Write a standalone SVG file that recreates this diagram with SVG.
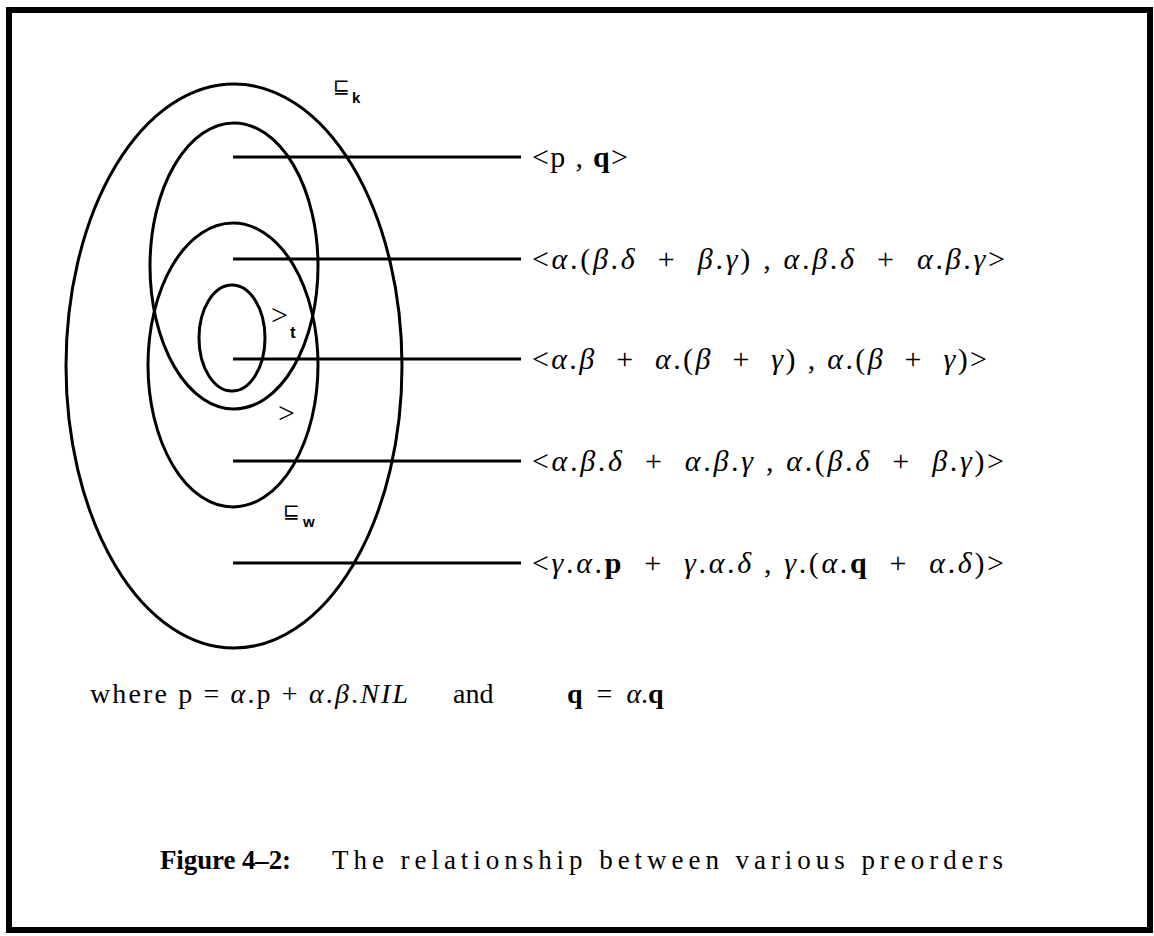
<svg xmlns="http://www.w3.org/2000/svg" width="1154" height="936" viewBox="0 0 1154 936">
<style>
.ell{fill:none;stroke:#000;stroke-width:3}
.ln{stroke:#000;stroke-width:3}
.t{font-family:"Liberation Serif","DejaVu Serif",serif;font-size:30px;fill:#000;white-space:pre}
.w{font-family:"Liberation Serif","DejaVu Serif",serif;font-size:28px;fill:#000;white-space:pre}
.i{font-style:italic}
.b{font-weight:bold}
.sym{font-family:"DejaVu Sans","Liberation Sans",sans-serif;font-size:20px;fill:#000}
.sub{font-family:"Liberation Sans",sans-serif;font-size:15px;font-weight:bold;fill:#000}
.cap{font-family:"Liberation Serif","DejaVu Serif",serif;font-size:27px;fill:#000;white-space:pre}
</style>
<rect x="9" y="10" width="1141" height="920" fill="#fff" stroke="#000" stroke-width="6"/>
<g id="ellipses">
<ellipse id="outer" class="ell" cx="234" cy="366" rx="168" ry="282"/>
<ellipse id="upper" class="ell" cx="234" cy="266" rx="84" ry="143"/>
<ellipse id="lower" class="ell" cx="233" cy="365" rx="85" ry="142"/>
<ellipse id="inner" class="ell" cx="232" cy="338" rx="33" ry="53"/>
</g>
<g id="labels">
<text class="sym" x="333" y="93">⊑</text><text class="sub" x="352" y="103">k</text>
<text class="sym" x="283" y="518">⊑</text><text class="sub" x="303" y="527">w</text>
<text class="t" x="271" y="325">&gt;</text><text class="sub" x="290" y="338" style="font-size:17px">t</text>
<text class="t" x="278" y="423">&gt;</text>
</g>
<g id="connectors">
<line class="ln" x1="233" y1="157" x2="521" y2="157"/>
<line class="ln" x1="233" y1="259" x2="521" y2="259"/>
<line class="ln" x1="233" y1="359" x2="521" y2="359"/>
<line class="ln" x1="233" y1="461" x2="521" y2="461"/>
<line class="ln" x1="233" y1="563" x2="521" y2="563"/>
</g>
<g id="row1"><text class="t" x="532" y="167" textLength="96" lengthAdjust="spacing">&lt;p , <tspan class="b">q</tspan>&gt;</text></g>
<g id="row2"><text class="t" x="532" y="269" textLength="473" lengthAdjust="spacing">&lt;<tspan class="i">α</tspan>.(<tspan class="i">β</tspan>.<tspan class="i">δ</tspan>  +  <tspan class="i">β</tspan>.<tspan class="i">γ</tspan>) , <tspan class="i">α</tspan>.<tspan class="i">β</tspan>.<tspan class="i">δ</tspan>  +  <tspan class="i">α</tspan>.<tspan class="i">β</tspan>.<tspan class="i">γ</tspan>&gt;</text></g>
<g id="row3"><text class="t" x="532" y="369" textLength="455" lengthAdjust="spacing">&lt;<tspan class="i">α</tspan>.<tspan class="i">β</tspan>  +  <tspan class="i">α</tspan>.(<tspan class="i">β</tspan>  +  <tspan class="i">γ</tspan>) , <tspan class="i">α</tspan>.(<tspan class="i">β</tspan>  +  <tspan class="i">γ</tspan>)&gt;</text></g>
<g id="row4"><text class="t" x="532" y="471" textLength="472" lengthAdjust="spacing">&lt;<tspan class="i">α</tspan>.<tspan class="i">β</tspan>.<tspan class="i">δ</tspan>  +  <tspan class="i">α</tspan>.<tspan class="i">β</tspan>.<tspan class="i">γ</tspan> , <tspan class="i">α</tspan>.(<tspan class="i">β</tspan>.<tspan class="i">δ</tspan>  +  <tspan class="i">β</tspan>.<tspan class="i">γ</tspan>)&gt;</text></g>
<g id="row5"><text class="t" x="532" y="573" textLength="472" lengthAdjust="spacing">&lt;<tspan class="i">γ</tspan>.<tspan class="i">α</tspan>.<tspan class="b">p</tspan>  +  <tspan class="i">γ</tspan>.<tspan class="i">α</tspan>.<tspan class="i">δ</tspan> , <tspan class="i">γ</tspan>.(<tspan class="i">α</tspan>.<tspan class="b">q</tspan>  +  <tspan class="i">α</tspan>.<tspan class="i">δ</tspan>)&gt;</text></g>
<g id="where">
<text class="w" x="90" y="703" textLength="318" lengthAdjust="spacing">where p = <tspan class="i">α</tspan>.p + <tspan class="i">α</tspan>.<tspan class="i">β</tspan>.<tspan class="i">NIL</tspan></text>
<text class="w" x="453" y="703">and</text>
<text class="w" x="567" y="703"><tspan class="b">q</tspan>  =  <tspan class="i">α</tspan>.<tspan class="b">q</tspan></text>
</g>
<g id="caption">
<text class="cap b" x="160" y="869" textLength="131" lengthAdjust="spacing">Figure 4–2:</text>
<text class="cap" x="332" y="869" textLength="671" lengthAdjust="spacing">The relationship between various preorders</text>
</g>
</svg>
